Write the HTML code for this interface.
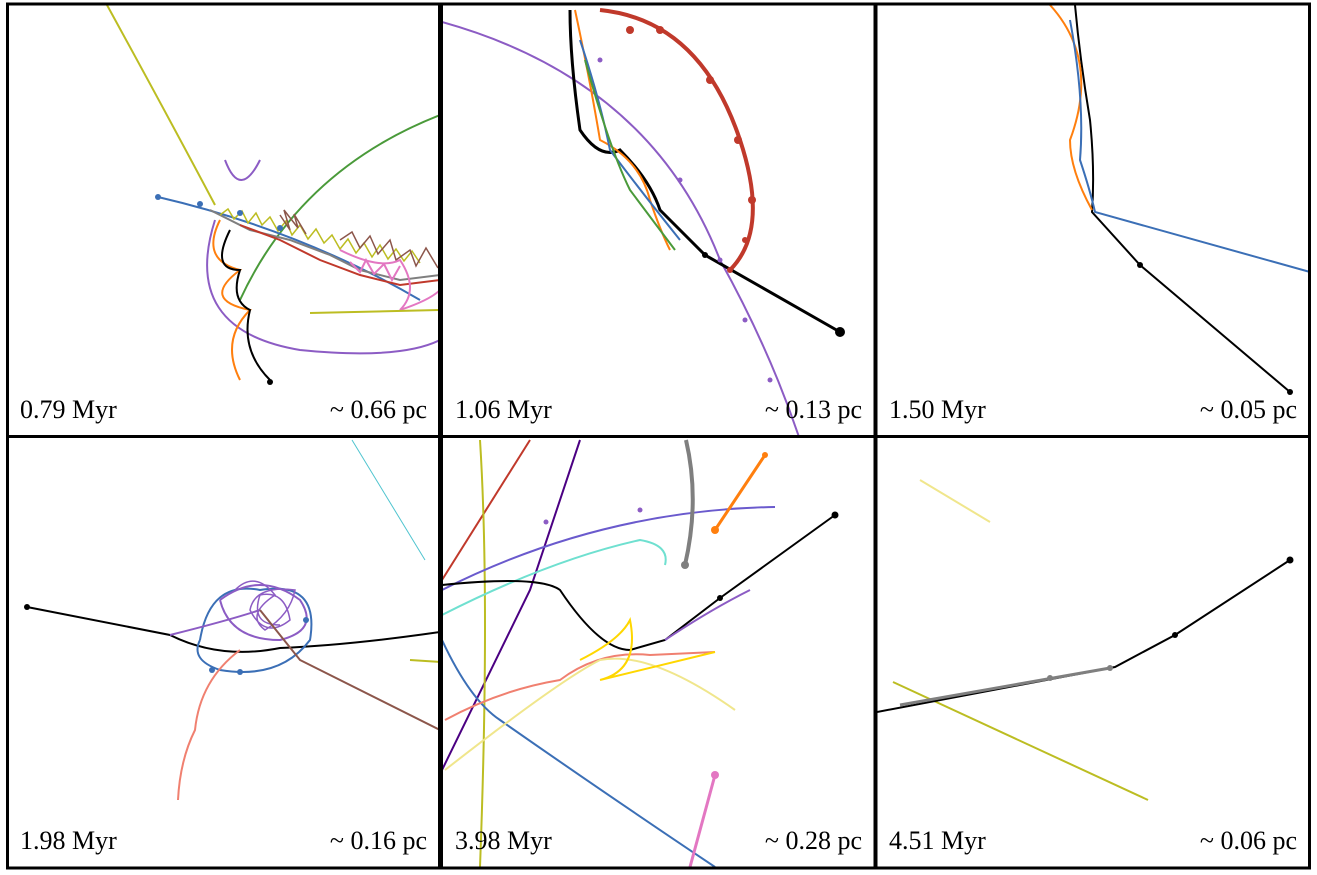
<!DOCTYPE html>
<html><head><meta charset="utf-8"><style>
html,body{margin:0;padding:0;background:#fff;}
svg{display:block}
text{font-family:"Liberation Serif",serif;font-size:26px;fill:#000}
</style></head><body>
<svg width="1317" height="875" viewBox="0 0 1317 875" xmlns="http://www.w3.org/2000/svg">
<rect width="1317" height="875" fill="#fff"/>
<defs>
<clipPath id="c1"><rect x="8" y="5" width="431" height="430"/></clipPath>
<clipPath id="c2"><rect x="442" y="5" width="432" height="430"/></clipPath>
<clipPath id="c3"><rect x="877" y="5" width="431" height="430"/></clipPath>
<clipPath id="c4"><rect x="8" y="438" width="431" height="429"/></clipPath>
<clipPath id="c5"><rect x="442" y="438" width="432" height="429"/></clipPath>
<clipPath id="c6"><rect x="877" y="438" width="431" height="429"/></clipPath>
</defs>
<g fill="none" stroke-width="2">
<!-- panel 1 -->
<g clip-path="url(#c1)">
<path d="M107,5 Q170,120 215,205" stroke="#bcbd22"/>
<path d="M440,115 Q300,170 240,300" stroke="#4a9a3a"/>
<path d="M158,197 Q300,230 420,300" stroke="#3b6fb6"/>
<path d="M215,220 Q180,330 300,350 Q400,360 440,340" stroke="#8c5cc4"/>
<path d="M225,160 Q240,200 260,160" stroke="#8c5cc4"/>
<path d="M210,210 L250,230 L290,240 L330,255 L360,270 L400,280 L440,275" stroke="#7f7f7f"/>
<path d="M220,220 Q200,260 240,270 Q200,300 250,310 Q220,340 240,380" stroke="#ff7f0e"/>
<path d="M230,230 Q210,270 240,270 Q230,300 250,310 Q240,350 270,380" stroke="#000"/>
<path d="M240,225 L280,240 L320,260 L360,275 L400,285 L440,280" stroke="#c0392b"/>
<path d="M220,215 l8,-6 l6,10 l8,-8 l6,12 l8,-10 l6,12 l8,-8 l8,14 l8,-10 l6,14 l8,-10 l8,14 l8,-10 l8,14 l8,-8 l8,14 l8,-10 l8,14 l8,-10 l8,14 l8,-12 l8,14 l8,-10 l8,12 l8,-10 l8,12" stroke="#bcbd22" stroke-width="1.5"/>
<path d="M280,215 l10,15 l-6,-20 l14,18 l-4,-14 l12,20 M340,240 l12,-8 l8,16 l10,-12 l8,18 l12,-14 l6,20 l14,-10 l6,16 l10,-18 l12,20" stroke="#8c564b" stroke-width="1.5"/>
<path d="M340,250 Q380,270 400,260 Q420,290 400,310 Q430,300 440,290 M350,262 l10,10 l6,-12 l8,14 l10,-10 l8,16 l8,-14" stroke="#e377c2"/>
<path d="M310,313 L440,310" stroke="#bcbd22"/>
</g>
<!-- panel 2 -->
<g clip-path="url(#c2)">
<path d="M442,22 Q650,80 720,260 Q770,350 800,440" stroke="#8c5cc4"/>
<path d="M600,10 Q700,20 740,140 Q770,230 730,270" stroke="#c0392b" stroke-width="4"/>
<path d="M570,10 Q570,60 580,130 Q600,160 620,150 Q650,180 660,210 L705,255 L840,332" stroke="#000" stroke-width="3"/>
<path d="M575,10 Q590,80 600,140 Q640,160 650,200 Q660,230 670,250" stroke="#ff7f0e"/>
<path d="M580,40 Q600,100 610,150 Q640,190 680,240" stroke="#3b6fb6"/>
<path d="M585,60 Q610,150 630,190 Q660,230 675,250" stroke="#4a9a3a"/>
</g>
<!-- panel 3 -->
<g clip-path="url(#c3)">
<path d="M1075,5 Q1080,60 1090,120 Q1095,170 1092,212 L1140,265 L1290,392" stroke="#000"/>
<path d="M1050,5 Q1100,60 1070,140 Q1070,170 1092,210" stroke="#ff7f0e"/>
<path d="M1070,20 Q1085,100 1080,160 Q1090,190 1095,212 L1310,272" stroke="#3b6fb6"/>
</g>
<!-- panel 4 -->
<g clip-path="url(#c4)">
<path d="M352,440 L425,560" stroke="#4fc4cf" stroke-width="1"/>
<path d="M27,607 L170,635 Q220,660 280,648 Q350,645 440,632" stroke="#000"/>
<path d="M200,640 Q210,580 260,590 Q320,580 310,640 Q280,680 220,670 Q190,660 200,640" stroke="#3b6fb6"/>
<path d="M220,600 Q260,570 300,600 Q320,630 280,640 Q230,640 220,600 M170,635 Q230,620 260,610" stroke="#8c5cc4"/>
<path d="M235,590 q20,-20 40,5 q-30,20 -10,35 q25,-15 30,-40 q-40,-5 -45,20 q15,30 40,10 q-5,-30 -30,-25 q-10,30 20,30" stroke="#8c5cc4" stroke-width="1.5"/>
<path d="M260,610 L300,660 L440,730" stroke="#8c564b"/>
<path d="M240,650 Q200,680 195,730 Q180,760 178,800" stroke="#f08070"/>
<path d="M410,660 L440,662" stroke="#bcbd22"/>
</g>
<!-- panel 5 -->
<g clip-path="url(#c5)">
<path d="M442,580 L530,440" stroke="#c0392b"/>
<path d="M442,770 L530,590 Q560,500 580,440" stroke="#4b0082"/>
<path d="M480,440 Q490,600 480,867" stroke="#bcbd22"/>
<path d="M442,590 Q600,510 775,507" stroke="#6a5acd"/>
<path d="M442,615 Q550,560 640,540 Q670,545 665,565" stroke="#6fe0d0"/>
<path d="M686,440 Q700,500 685,565" stroke="#7f7f7f" stroke-width="4"/>
<path d="M765,455 L715,530" stroke="#ff7f0e" stroke-width="3"/>
<path d="M442,585 Q540,575 560,590 Q600,650 630,650 L665,640 L720,598 L835,515" stroke="#000" stroke-width="2"/>
<path d="M665,640 Q710,610 750,590" stroke="#8c5cc4"/>
<path d="M442,640 Q470,700 500,720 Q600,790 715,867" stroke="#3b6fb6"/>
<path d="M445,720 Q500,690 560,680 Q600,650 650,655 L715,652" stroke="#f08070"/>
<path d="M445,770 Q560,680 600,660 Q650,650 735,710" stroke="#f0e68c"/>
<path d="M580,660 Q620,640 630,620 Q640,670 600,680 L715,652" stroke="#ffd700"/>
<path d="M715,775 L690,867" stroke="#e377c2" stroke-width="3"/>
</g>
<!-- panel 6 -->
<g clip-path="url(#c6)">
<path d="M920,480 L990,522" stroke="#f0e68c"/>
<path d="M893,682 L1148,800" stroke="#bcbd22"/>
<path d="M877,712 L1115,667 L1175,635 L1290,560" stroke="#000"/>
<path d="M900,705 L1110,668" stroke="#7f7f7f" stroke-width="3"/>
</g>
</g>
<g fill="#000">
<circle cx="270" cy="382" r="3"/><circle cx="840" cy="332" r="5"/><circle cx="705" cy="255" r="3"/>
<circle cx="1290" cy="392" r="3"/><circle cx="1140" cy="265" r="3"/><circle cx="27" cy="607" r="3"/>
<circle cx="835" cy="515" r="3.5"/><circle cx="720" cy="598" r="3"/><circle cx="1290" cy="560" r="3.5"/><circle cx="1175" cy="635" r="3"/>
</g>
<g fill="#c0392b"><circle cx="730" cy="270" r="3"/><circle cx="745" cy="240" r="3"/><circle cx="752" cy="200" r="4"/><circle cx="738" cy="140" r="4"/><circle cx="710" cy="80" r="4"/><circle cx="660" cy="30" r="4"/><circle cx="630" cy="30" r="4"/></g>
<g fill="#3b6fb6"><circle cx="158" cy="197" r="3"/><circle cx="200" cy="204" r="3"/><circle cx="240" cy="213" r="3"/><circle cx="280" cy="228" r="3"/><circle cx="212" cy="670" r="3"/><circle cx="240" cy="672" r="3"/><circle cx="306" cy="620" r="3"/></g>
<g fill="#8c5cc4"><circle cx="600" cy="60" r="2.5"/><circle cx="680" cy="180" r="2.5"/><circle cx="720" cy="260" r="2.5"/><circle cx="745" cy="320" r="2.5"/><circle cx="770" cy="380" r="2.5"/><circle cx="546" cy="522" r="2.5"/><circle cx="640" cy="510" r="2.5"/></g>
<g fill="#7f7f7f"><circle cx="685" cy="565" r="4"/><circle cx="1110" cy="668" r="3"/><circle cx="1050" cy="678" r="3"/></g>
<circle cx="715" cy="530" r="4" fill="#ff7f0e"/><circle cx="765" cy="455" r="3" fill="#ff7f0e"/>
<circle cx="715" cy="775" r="4" fill="#e377c2"/>
<!-- frames -->
<g stroke="#000" fill="none">
<rect x="7.5" y="4" width="1302" height="864" stroke-width="3"/>
<line x1="440.5" y1="4" x2="440.5" y2="868" stroke-width="5"/>
<line x1="875.5" y1="4" x2="875.5" y2="868" stroke-width="4"/>
<line x1="7" y1="436.5" x2="1310" y2="436.5" stroke-width="3"/>
</g>
<text x="20" y="418">0.79 Myr</text><text x="427" y="418" text-anchor="end">~ 0.66 pc</text>
<text x="455" y="418">1.06 Myr</text><text x="862" y="418" text-anchor="end">~ 0.13 pc</text>
<text x="889" y="418">1.50 Myr</text><text x="1297" y="418" text-anchor="end">~ 0.05 pc</text>
<text x="20" y="849">1.98 Myr</text><text x="427" y="849" text-anchor="end">~ 0.16 pc</text>
<text x="455" y="849">3.98 Myr</text><text x="862" y="849" text-anchor="end">~ 0.28 pc</text>
<text x="889" y="849">4.51 Myr</text><text x="1297" y="849" text-anchor="end">~ 0.06 pc</text>
</svg>
</body></html>
